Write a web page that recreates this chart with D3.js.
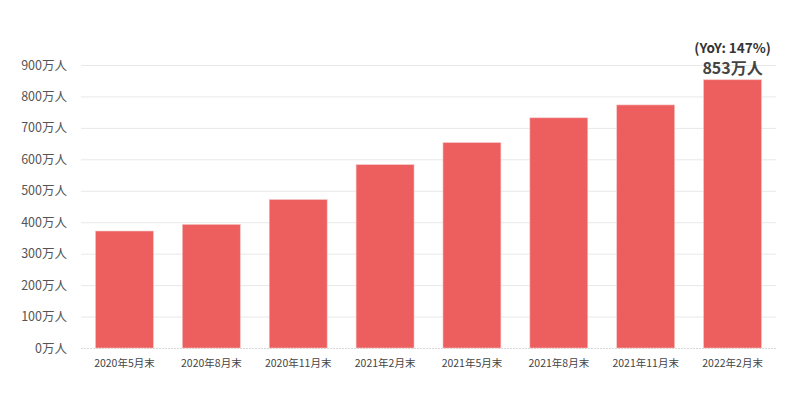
<!DOCTYPE html>
<html>
<head>
<meta charset="utf-8">
<script src="https://cdn.jsdelivr.net/npm/d3@7"></script>
<style>
  body { margin: 0; background: #fff; }
  text { font-family: "Noto Sans CJK JP", "Noto Sans", sans-serif; }
</style>
</head>
<body>
<svg id="chart" width="800" height="400"></svg>
<script>
// data (unit: 万人)
const periods = ["2020年5月末", "2020年8月末", "2020年11月末", "2021年2月末",
                 "2021年5月末", "2021年8月末", "2021年11月末", "2022年2月末"];
const users = [372, 393, 472, 583, 653, 732, 773, 853];
const yTicks = [0, 100, 200, 300, 400, 500, 600, 700, 800, 900];
const yoyLabel = "(YoY: 147%)";

const margin = {top: 65, right: 24, bottom: 52, left: 81};
const width = 800, height = 400;

var svg = d3.select("#chart");

var x = d3.scaleBand()
    .domain(periods)
    .range([margin.left, width - margin.right])
    .paddingInner(1 / 3)
    .paddingOuter(1 / 6);

var y = d3.scaleLinear()
    .domain([0, 900])
    .range([height - margin.bottom, margin.top]);

// grid lines
svg.append("g")
    .selectAll("line")
    .data(yTicks)
    .enter().append("line")
      .attr("x1", margin.left)
      .attr("x2", width - margin.right)
      .attr("y1", d => y(d) + 0.5)
      .attr("y2", d => y(d) + 0.5)
      .attr("stroke", d => d === 0 ? "#d8d8d8" : "#e8e8e8")
      .attr("stroke-dasharray", d => d === 0 ? "2,1" : null)
      .attr("stroke-width", 1);

// y axis labels
var yAxis = svg.append("g")
    .attr("transform", "translate(" + (margin.left - 14) + ",0)")
    .call(d3.axisLeft(y).tickValues(yTicks).tickSize(0).tickPadding(0)
      .tickFormat(d => d + "万人"));
yAxis.select(".domain").remove();
yAxis.selectAll("text")
    .attr("fill", "#555")
    .style("font-size", "12.5px");

// bars
svg.selectAll(".bar")
    .data(users)
    .enter().append("rect")
      .attr("class", "bar")
      .attr("x", (d, i) => x(periods[i]))
      .attr("y", d => y(d))
      .attr("width", x.bandwidth())
      .attr("height", d => y(0) - y(d))
      .attr("fill", "#ED5E5F")
      .attr("stroke", "#f6c4c4")
      .attr("stroke-width", 0.6);

// x axis labels
var xAxis = svg.append("g")
    .attr("transform", "translate(0," + (height - margin.bottom) + ")")
    .call(d3.axisBottom(x).tickSize(0).tickPadding(12));
xAxis.select(".domain").remove();
xAxis.selectAll("text")
    .attr("fill", "#444")
    .style("font-size", "10.5px");

// annotation on the last bar
var last = users.length - 1;
var cx = x(periods[last]) + x.bandwidth() / 2;
svg.append("text")
    .attr("x", cx)
    .attr("y", y(users[last]) - 27)
    .attr("text-anchor", "middle")
    .attr("fill", "#333")
    .style("font-size", "13.5px")
    .style("font-weight", "bold")
    .text(yoyLabel);
svg.append("text")
    .attr("x", cx)
    .attr("y", y(users[last]) - 6)
    .attr("text-anchor", "middle")
    .attr("fill", "#444")
    .style("font-size", "16px")
    .style("font-weight", "bold")
    .text(users[last] + "万人");
</script>
</body>
</html>
